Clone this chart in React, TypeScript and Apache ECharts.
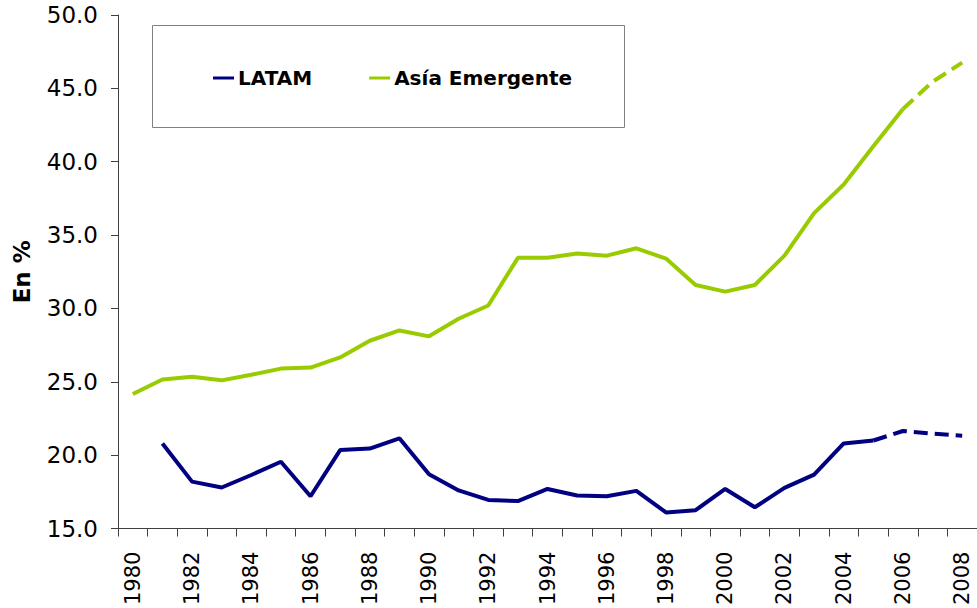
import React, { useEffect, useRef } from "react";
import * as echarts from "echarts";

const years = [
  "1980", "1981", "1982", "1983", "1984", "1985", "1986", "1987", "1988", "1989",
  "1990", "1991", "1992", "1993", "1994", "1995", "1996", "1997", "1998", "1999",
  "2000", "2001", "2002", "2003", "2004", "2005", "2006", "2007", "2008",
];

const latam: (number | null)[] = [
  null, 20.8, 18.2, 17.8, 18.65, 19.55, 17.2, 20.35, 20.45, 21.15,
  18.7, 17.6, 16.95, 16.87, 17.7, 17.25, 17.2, 17.57, 16.1, 16.25,
  17.7, 16.45, 17.77, 18.68, 20.8, 21.0, 21.65, 21.47, 21.33,
];

const asia: (number | null)[] = [
  24.17, 25.16, 25.35, 25.1, 25.48, 25.9, 25.97, 26.66, 27.8, 28.5,
  28.1, 29.3, 30.2, 33.45, 33.45, 33.75, 33.6, 34.1, 33.4, 31.6,
  31.15, 31.6, 33.6, 36.5, 38.45, 41.05, 43.6, 45.45, 46.75,
];

// first year of the projected (dashed) part of each series
const latamProjectionFrom = "2005";
const asiaProjectionFrom = "2006";

const yTicks = { min: 15, max: 50, interval: 5 };

function split(values: (number | null)[], fromYear: string) {
  const idx = years.indexOf(fromYear);
  const solid = values.map((v, i) => (i <= idx ? v : null));
  const dashed = values.map((v, i) => (i >= idx ? v : null));
  return { solid, dashed };
}

export default function App() {
  const ref = useRef<HTMLDivElement>(null);

  useEffect(() => {
    if (!ref.current) return;
    const chart = echarts.init(ref.current, null, { renderer: "svg" });
    const l = split(latam, latamProjectionFrom);
    const a = split(asia, asiaProjectionFrom);
    const navy = "#000080";
    const green = "#99CC00";
    const axisColor = "#404040";

    chart.setOption({
      animation: false,
      backgroundColor: "#ffffff",
      grid: { left: 118, top: 15, width: 864, height: 514, containLabel: false },
      legend: {
        left: 213,
        top: 68,
        padding: 0,
        itemGap: 57,
        itemWidth: 21,
        itemHeight: 3,
        icon: "rect",
        data: ["LATAM", "Asía Emergente"],
        textStyle: {
          fontFamily: "DejaVu Sans",
          fontWeight: "bold",
          fontSize: 20,
          color: "#000000",
          padding: [0, 0, 0, -1],
        },
      },
      graphic: [
        {
          type: "rect",
          shape: { x: 152.5, y: 25.5, width: 472, height: 102 },
          style: { fill: "none", stroke: "#808080", lineWidth: 1 },
          z: -1,
        },
      ],
      xAxis: {
        type: "category",
        data: years,
        boundaryGap: true,
        axisLine: { show: true, lineStyle: { color: axisColor, width: 1 } },
        axisTick: { show: true, interval: 0, length: 8, lineStyle: { color: axisColor } },
        axisLabel: {
          interval: 1,
          rotate: 90,
          margin: 23,
          fontFamily: "DejaVu Sans",
          fontSize: 21,
          color: "#000000",
        },
        splitLine: { show: false },
      },
      yAxis: {
        type: "value",
        min: yTicks.min,
        max: yTicks.max,
        interval: yTicks.interval,
        name: "En %",
        nameLocation: "middle",
        nameGap: 85,
        nameRotate: 90,
        nameTextStyle: {
          fontFamily: "DejaVu Sans",
          fontWeight: "bold",
          fontSize: 23,
          color: "#000000",
        },
        axisLine: { show: true, lineStyle: { color: axisColor, width: 1 } },
        axisTick: { show: true, length: 7, lineStyle: { color: axisColor } },
        axisLabel: {
          margin: 20,
          fontFamily: "DejaVu Sans",
          fontSize: 23,
          color: "#000000",
          formatter: (v: number) => v.toFixed(1),
        },
        splitLine: { show: false },
      },
      series: [
        {
          name: "LATAM",
          type: "line",
          data: l.solid,
          showSymbol: false,
          symbol: "none",
          lineStyle: { color: navy, width: 4 },
          itemStyle: { color: navy },
          connectNulls: false,
        },
        {
          name: "Asía Emergente",
          type: "line",
          data: a.solid,
          showSymbol: false,
          symbol: "none",
          lineStyle: { color: green, width: 4 },
          itemStyle: { color: green },
          connectNulls: false,
        },
        {
          name: "LATAM proyección",
          type: "line",
          data: l.dashed,
          showSymbol: false,
          symbol: "none",
          lineStyle: { color: navy, width: 4, type: [14, 7] },
          itemStyle: { color: navy },
        },
        {
          name: "Asía Emergente proyección",
          type: "line",
          data: a.dashed,
          showSymbol: false,
          symbol: "none",
          lineStyle: { color: green, width: 4, type: [14, 7] },
          itemStyle: { color: green },
        },
      ],
    });

    return () => chart.dispose();
  }, []);

  return (
    <div
      ref={ref}
      style={{ position: "fixed", left: 0, top: 0, width: 977, height: 608 }}
    />
  );
}
